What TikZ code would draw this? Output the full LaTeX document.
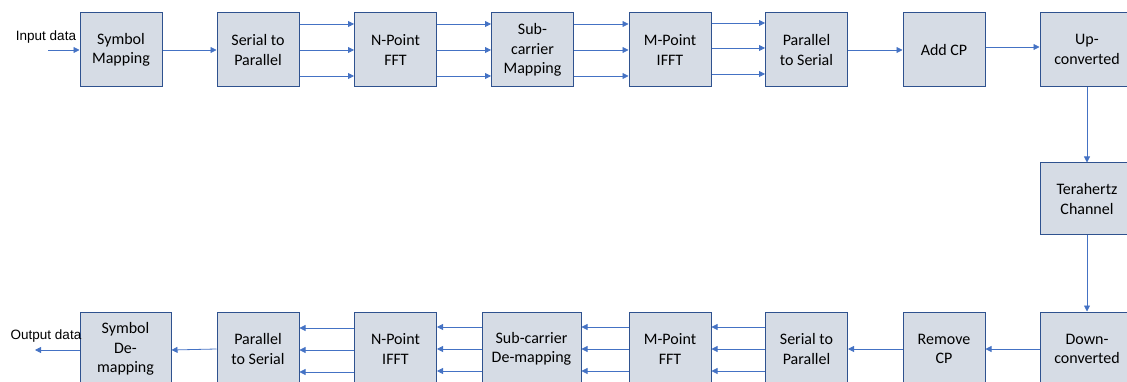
\documentclass[tikz,border=0pt]{standalone}
\usepackage{fontspec}
\setmainfont{Carlito}
\newfontfamily\labelfont{Liberation Sans}
\usetikzlibrary{arrows.meta}
\definecolor{boxfill}{HTML}{D6DCE5}
\definecolor{boxline}{HTML}{2F528F}
\definecolor{flow}{HTML}{4472C4}

\begin{document}
\begin{tikzpicture}[x=1pt,y=-1pt,
  block/.style={draw=boxline, line width=1pt, fill=boxfill, minimum height=74pt,
    minimum width=82pt, align=center, inner sep=0pt,
    font=\fontsize{16}{19.5}\selectfont},
  wideblock/.style={block, minimum width=94pt},
  arr/.style={draw=flow, line width=0.8pt, -{Triangle[length=6pt,width=6pt]}},
  io/.style={font=\labelfont\fontsize{13.5}{16}\selectfont, inner sep=0pt}]
\useasboundingbox (0,0) rectangle (1127,382);

% transmitter chain
\node[block] (symmap) at (121,50)   {Symbol\\Mapping};
\node[block] (sp)     at (258,50)   {Serial to\\Parallel};
\node[block] (nfft)   at (395.5,50) {N-Point\\FFT};
\node[block] (scmap)  at (532.5,50) {Sub-\\carrier\\Mapping};
\node[block] (mifft)  at (670,50)   {M-Point\\IFFT};
\node[block] (ps)     at (806.5,50) {Parallel\\to Serial};
\node[block] (addcp)  at (944,50)   {Add CP};
\node[wideblock] (up) at (1087,49.5) {Up-\\converted};

% channel
\node[wideblock, minimum height=72pt] (thz) at (1087,199) {Terahertz\\Channel};

% receiver chain
\node[wideblock] (down)  at (1087,349) {Down-\\converted};
\node[block] (rmcp)      at (944,349)   {Remove\\CP};
\node[block] (sp2)       at (806.5,349) {Serial to\\Parallel};
\node[block] (mfft)      at (670,349)   {M-Point\\FFT};
\node[block, minimum width=99pt] (scdemap) at (531.5,349) {Sub-carrier\\De-mapping};
\node[block] (nifft)     at (395.5,349) {N-Point\\IFFT};
\node[block] (ps2)       at (258,349)   {Parallel\\to Serial};
\node[block, minimum width=91pt] (symdemap) at (125.5,349) {Symbol\\De-\\mapping};

% input / output
\coordinate (in)  at (48,50);
\coordinate (out) at (35,350);
\node[io] (inlabel)  at (46,37)  {Input data};
\node[io] (outlabel) at (46,336) {Output data};

% transmitter connectors
\draw[arr] (in) -- (symmap.west);
\draw[arr] (symmap.east) -- (sp.west);
\foreach \s in {26,0,-26} {
  \draw[arr] ([yshift=\s pt]sp.east) -- ([yshift=\s pt]nfft.west);
  \draw[arr] ([yshift=\s pt]nfft.east) -- ([yshift=\s pt]scmap.west);
  \draw[arr] ([yshift=\s pt]scmap.east) -- ([yshift=\s pt]mifft.west);
}
\foreach \s in {27,2,-24} {
  \draw[arr] ([yshift=\s pt]mifft.east) -- ([yshift=\s pt]ps.west);
}
\draw[arr] (ps.east) -- (addcp.west);
\draw[arr] ([yshift=3pt]addcp.east) -- ([yshift=3pt]addcp.east -| up.west);

% channel connectors
\draw[arr] (up.south) -- (thz.north);
\draw[arr] (thz.south) -- (down.north);

% receiver connectors
\draw[arr] (down.west) -- (rmcp.east);
\draw[arr] (rmcp.west) -- (sp2.east);
\foreach \s in {22,0,-22} {
  \draw[arr] ([yshift=\s pt]sp2.west) -- ([yshift=\s pt]mfft.east);
  \draw[arr] ([yshift=\s pt]mfft.west) -- ([yshift=\s pt]scdemap.east);
  \draw[arr] ([yshift=\s pt]scdemap.west) -- ([yshift=\s pt]nifft.east);
}
\foreach \s in {21,-1,-23} {
  \draw[arr] ([yshift=\s pt]nifft.west) -- ([yshift=\s pt]ps2.east);
}
\draw[arr] (ps2.west) -- ([yshift=-1pt]symdemap.east);
\draw[arr] ([yshift=-1pt]symdemap.west) -- (out);
\end{tikzpicture}
\end{document}
